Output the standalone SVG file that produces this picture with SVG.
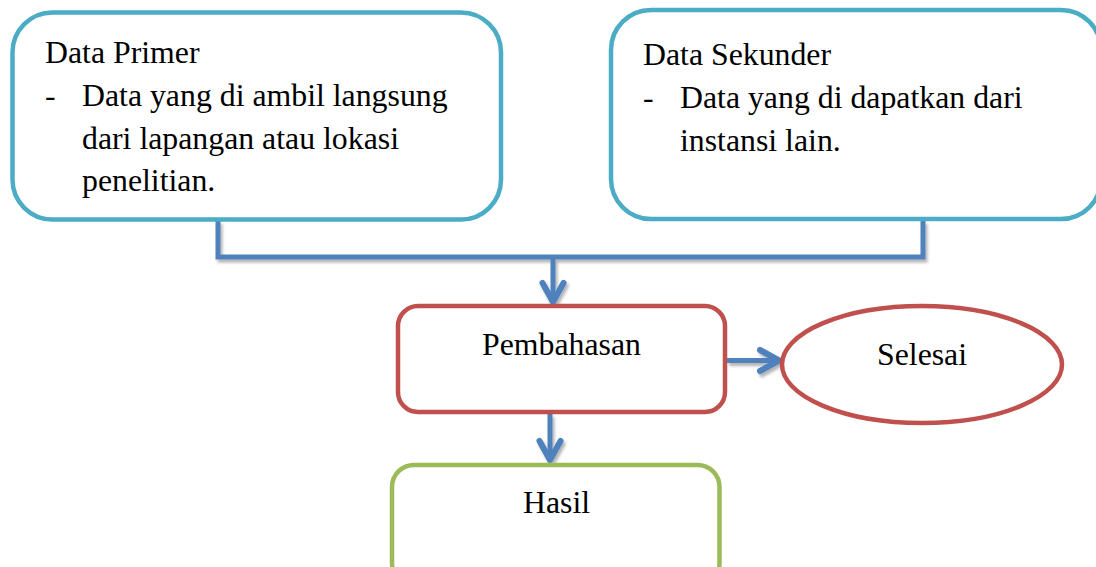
<svg xmlns="http://www.w3.org/2000/svg" width="1096" height="567" viewBox="0 0 1096 567">
  <style>
    .txt { font-family: "Liberation Serif", "Times New Roman", serif; font-size: 31.8px; fill: #000; }
    .box { fill: #fff; stroke-width: 4.5; }
    .teal { stroke: #4BACC6; }
    .red { stroke: #C0504D; }
    .green { stroke: #9BBB59; }
    .conn { fill: none; stroke: #4F81BD; stroke-width: 5; stroke-linejoin: miter; }
  </style>
  <defs>
    <filter id="shadow" x="-10%" y="-50%" width="120%" height="200%">
      <feDropShadow dx="2" dy="3" stdDeviation="1.5" flood-color="#000" flood-opacity="0.3"/>
    </filter>
    <marker id="arrow" markerUnits="userSpaceOnUse" viewBox="-25 -15 32 30" refX="0" refY="0" markerWidth="32" markerHeight="30" orient="auto" overflow="visible">
      <path d="M-16,-10.5 L3,0 L-16,10.5" fill="none" stroke="#4F81BD" stroke-width="6" stroke-linecap="round" stroke-linejoin="round"/>
    </marker>
  </defs>

  <g id="connectors" filter="url(#shadow)">
    <path class="conn" d="M218,221 V257 H923 V221"/>
    <path class="conn" d="M553,257 V299" marker-end="url(#arrow)"/>
    <path class="conn" d="M727,360.5 H776" marker-end="url(#arrow)"/>
    <path class="conn" d="M550,414 V457" marker-end="url(#arrow)"/>
  </g>

  <g id="data-primer">
    <rect class="box teal" x="12.5" y="12.5" width="488.5" height="207" rx="40" ry="40"/>
    <text class="txt" x="45" y="63">Data Primer</text>
    <text class="txt" x="45" y="106">-</text>
    <text class="txt" x="82" y="106">Data yang di ambil langsung</text>
    <text class="txt" x="82" y="148.5">dari lapangan atau lokasi</text>
    <text class="txt" x="82" y="191">penelitian.</text>
  </g>

  <g id="data-sekunder">
    <rect class="box teal" x="611" y="10" width="490" height="209" rx="40" ry="40"/>
    <text class="txt" x="643" y="65">Data Sekunder</text>
    <text class="txt" x="643" y="108">-</text>
    <text class="txt" x="680" y="108">Data yang di dapatkan dari</text>
    <text class="txt" x="680" y="151">instansi lain.</text>
  </g>

  <g id="pembahasan">
    <rect class="box red" x="398" y="306" width="327" height="106" rx="20" ry="20"/>
    <text class="txt" x="482" y="355">Pembahasan</text>
  </g>

  <g id="selesai">
    <ellipse class="box red" cx="922" cy="364.5" rx="140" ry="58.5"/>
    <text class="txt" x="877" y="365">Selesai</text>
  </g>

  <g id="hasil">
    <rect class="box green" x="392" y="465" width="327.5" height="120" rx="22" ry="22"/>
    <text class="txt" x="523" y="513">Hasil</text>
  </g>
</svg>
